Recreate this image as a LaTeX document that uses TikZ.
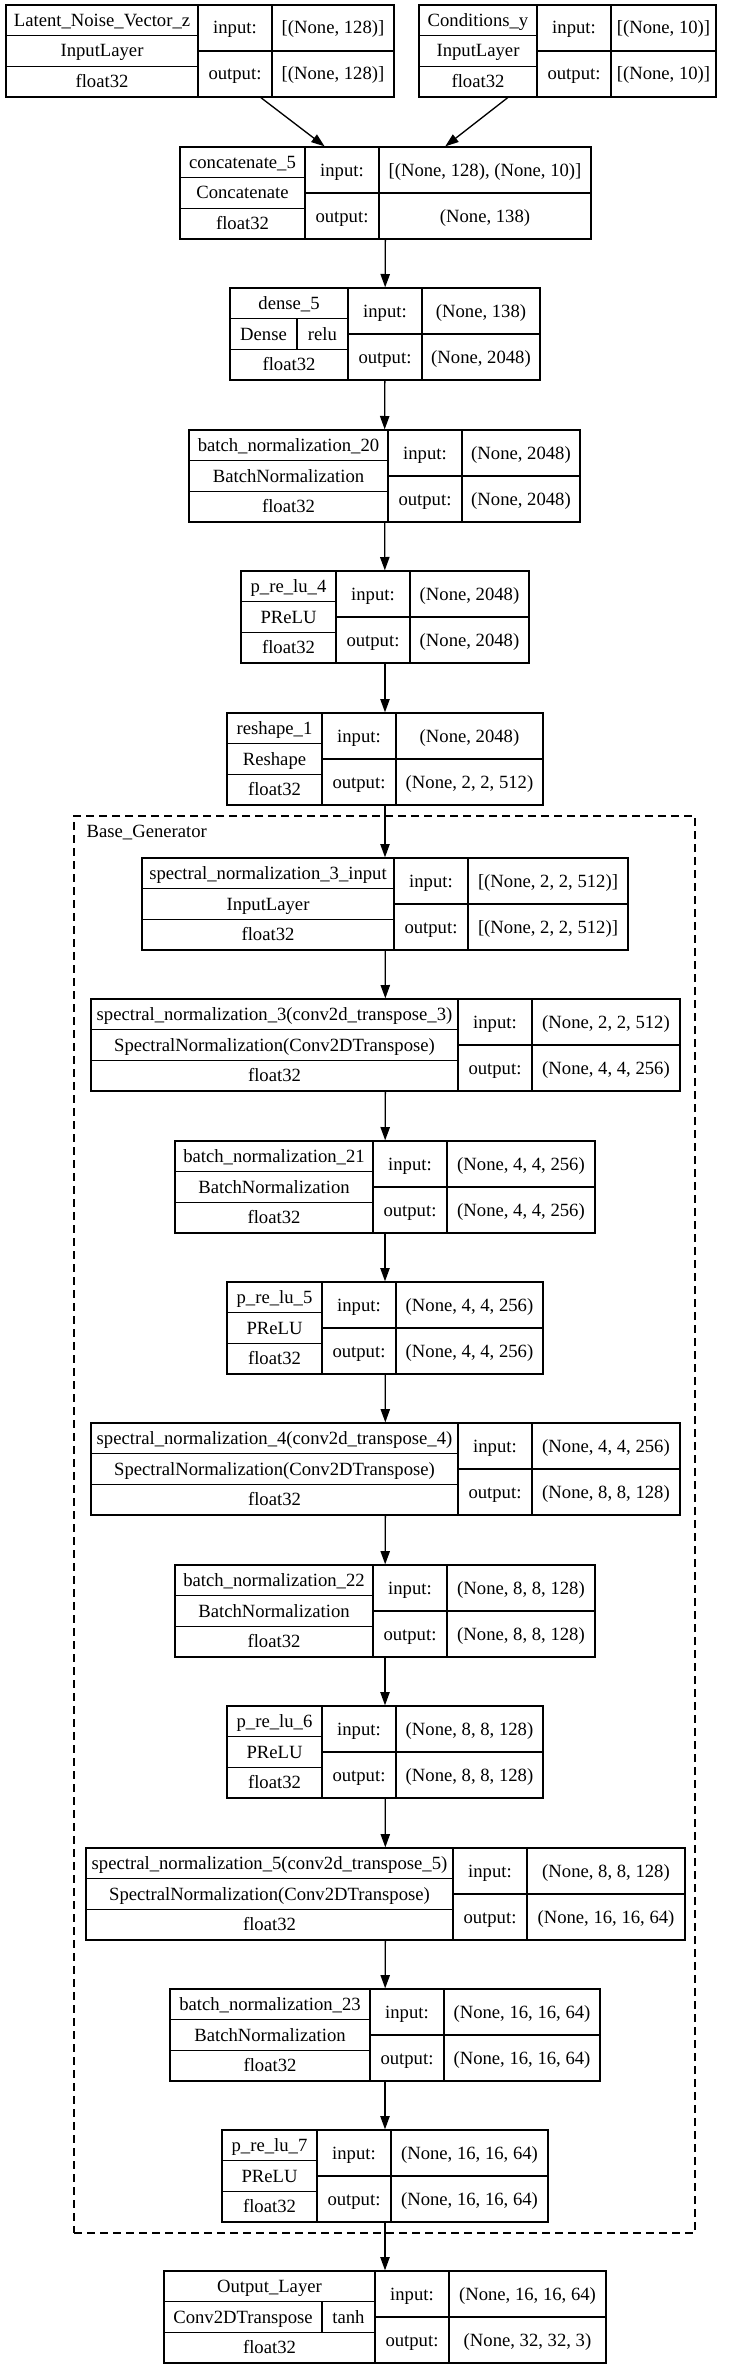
\documentclass[tikz,border=0pt]{standalone}
\usepackage{fontspec}
\setmainfont{Liberation Serif}
\usetikzlibrary{fit, arrows.meta}

% one keras record: name, left, split, right, top, title, class, input, output
\newcommand{\layer}[9]{%
  \node[box, fit={(#2,#5) (#4,#5+92)}] (#1) {};
  \draw (#3,#5) -- (#3,#5+92);
  \draw (#3+74,#5) -- (#3+74,#5+92);
  \draw (#2,#5+30.67) -- (#3,#5+30.67);
  \draw (#2,#5+61.33) -- (#3,#5+61.33);
  \draw (#3,#5+46) -- (#4,#5+46);
  \node[txt] (#1-name) at ({(#2+#3)/2},#5+15.33) {#6};
  \node[txt] (#1-class) at ({(#2+#3)/2},#5+46) {#7};
  \node[txt] (#1-dtype) at ({(#2+#3)/2},#5+76.67) {float32};
  \node[txt] (#1-in) at (#3+37,#5+23) {input:};
  \node[txt] (#1-out) at (#3+37,#5+69) {output:};
  \node[txt] (#1-inshape) at ({(#3+74+#4)/2},#5+23) {#8};
  \node[txt] (#1-outshape) at ({(#3+74+#4)/2},#5+69) {#9};
}

\begin{document}
\begin{tikzpicture}[x=0.75pt, y=-0.75pt, line width=1pt,
    box/.style={draw, inner sep=0pt},
    txt/.style={inner sep=0pt, text height=9pt, text depth=0pt,
      font=\fontsize{14}{16}\selectfont},
    arr/.style={-{Triangle[length=10pt, width=7pt]}},
    cluster/.style={draw, dash pattern=on 6pt off 3.75pt, inner sep=0pt}]
    \useasboundingbox (0,0) rectangle (728,2369);

    % Base_Generator skupina
    \node[cluster, fit={(74,816) (695,2233)}] (basegen) {};
    \node[txt, anchor=west] (basegen-label) at (86,831) {Base\_Generator};

    \layer{latent}{6}{198}{394}{5}{Latent\_Noise\_Vector\_z}{InputLayer}{[(None, 128)]}{[(None, 128)]}
    \layer{cond}{419}{537}{716}{5}{Conditions\_y}{InputLayer}{[(None, 10)]}{[(None, 10)]}
    \layer{concat}{180}{305}{591}{147}{concatenate\_5}{Concatenate}{[(None, 128), (None, 10)]}{(None, 138)}
    \layer{dense}{230}{348}{540}{288}{dense\_5}{}{(None, 138)}{(None, 2048)}
    \draw (297,318.67) -- (297,349.33);
    \node[txt] (dense-kind) at (263.5,334) {Dense};
    \node[txt] (dense-act) at (322.5,334) {relu};
    \layer{bn20}{189}{388}{580}{430}{batch\_normalization\_20}{BatchNormalization}{(None, 2048)}{(None, 2048)}
    \layer{prelu4}{241}{336}{529}{571}{p\_re\_lu\_4}{PReLU}{(None, 2048)}{(None, 2048)}
    \layer{reshape}{227}{322}{543}{713}{reshape\_1}{Reshape}{(None, 2048)}{(None, 2, 2, 512)}

    \layer{sninput}{142}{394}{628}{858}{spectral\_normalization\_3\_input}{InputLayer}{[(None, 2, 2, 512)]}{[(None, 2, 2, 512)]}
    \layer{sn3}{91}{458}{680}{999}{spectral\_normalization\_3(conv2d\_transpose\_3)}{SpectralNormalization(Conv2DTranspose)}{(None, 2, 2, 512)}{(None, 4, 4, 256)}
    \layer{bn21}{175}{373}{595}{1141}{batch\_normalization\_21}{BatchNormalization}{(None, 4, 4, 256)}{(None, 4, 4, 256)}
    \layer{prelu5}{227}{322}{543}{1282}{p\_re\_lu\_5}{PReLU}{(None, 4, 4, 256)}{(None, 4, 4, 256)}
    \layer{sn4}{91}{458}{680}{1423}{spectral\_normalization\_4(conv2d\_transpose\_4)}{SpectralNormalization(Conv2DTranspose)}{(None, 4, 4, 256)}{(None, 8, 8, 128)}
    \layer{bn22}{175}{373}{595}{1565}{batch\_normalization\_22}{BatchNormalization}{(None, 8, 8, 128)}{(None, 8, 8, 128)}
    \layer{prelu6}{227}{322}{543}{1706}{p\_re\_lu\_6}{PReLU}{(None, 8, 8, 128)}{(None, 8, 8, 128)}
    \layer{sn5}{86}{453}{685}{1848}{spectral\_normalization\_5(conv2d\_transpose\_5)}{SpectralNormalization(Conv2DTranspose)}{(None, 8, 8, 128)}{(None, 16, 16, 64)}
    \layer{bn23}{170}{370}{600}{1989}{batch\_normalization\_23}{BatchNormalization}{(None, 16, 16, 64)}{(None, 16, 16, 64)}
    \layer{prelu7}{222}{317}{548}{2130}{p\_re\_lu\_7}{PReLU}{(None, 16, 16, 64)}{(None, 16, 16, 64)}

    \layer{outlayer}{164}{375}{606}{2271}{Output\_Layer}{}{(None, 16, 16, 64)}{(None, 32, 32, 3)}
    \draw (322,2301.67) -- (322,2332.33);
    \node[txt] (outlayer-kind) at (243,2317) {Conv2DTranspose};
    \node[txt] (outlayer-act) at (348.5,2317) {tanh};

    \draw[arr] (latent) -- (concat);
    \draw[arr] (cond) -- (concat);
    \draw[arr] (concat) -- (dense);
    \draw[arr] (dense) -- (bn20);
    \draw[arr] (bn20) -- (prelu4);
    \draw[arr] (prelu4) -- (reshape);
    \draw[arr] (reshape) -- (sninput);
    \draw[arr] (sninput) -- (sn3);
    \draw[arr] (sn3) -- (bn21);
    \draw[arr] (bn21) -- (prelu5);
    \draw[arr] (prelu5) -- (sn4);
    \draw[arr] (sn4) -- (bn22);
    \draw[arr] (bn22) -- (prelu6);
    \draw[arr] (prelu6) -- (sn5);
    \draw[arr] (sn5) -- (bn23);
    \draw[arr] (bn23) -- (prelu7);
    \draw[arr] (prelu7) -- (outlayer);
\end{tikzpicture}
\end{document}
